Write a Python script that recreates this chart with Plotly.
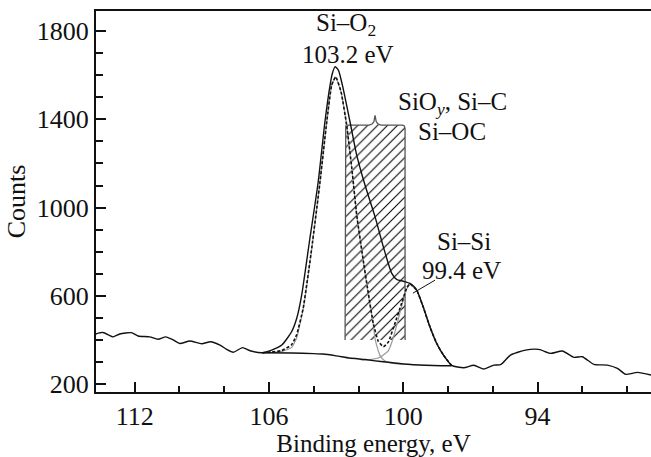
import plotly.graph_objects as go

# Si 2p photoelectron spectrum: measured counts, fitted envelope,
# the two fitted components and the Shirley-type background.

energy_measured = [
    113.8, 113.42, 112.97, 112.67, 112.15, 111.85, 111.33, 110.96, 110.61, 110.28,
    109.98, 109.54, 109.01, 108.61, 108.19, 107.89, 107.6, 107.18, 106.85, 106.3,
    105.88, 105.43, 104.99, 104.76, 104.54, 104.17, 103.80, 103.50, 103.27, 103.17,
    103.05, 102.90, 102.72, 102.38, 102.08, 101.71, 101.26, 100.89, 100.52, 100.29,
    100.00, 99.70, 99.40, 99.11, 98.81, 98.51, 98.21, 97.84,
    97.30, 96.85, 96.40, 95.95, 95.65, 95.21, 94.54, 93.94, 93.42, 92.89,
    92.37, 92.0, 91.48, 90.88, 90.43, 90.06, 89.54, 88.93,
]
counts_measured = [
    425, 434, 414, 427, 433, 418, 414, 403, 414, 400,
    384, 395, 383, 392, 377, 357, 344, 365, 351, 342,
    354, 377, 437, 498, 603, 862, 1117, 1389, 1555, 1608,
    1638, 1623, 1555, 1389, 1238, 1102, 958, 822, 703, 674,
    666, 656, 626, 550, 460, 385, 332, 285,
    274, 285, 268, 286, 288, 331, 354, 357, 339, 350,
    321, 324, 289, 286, 271, 244, 253, 241,
]

energy_fit = [
    106.3, 105.88, 105.43, 104.99, 104.76, 104.47, 104.09, 103.72, 103.42, 103.20,
    103.02, 102.78, 102.53, 102.30, 102.08, 101.79, 101.56, 101.34, 101.12, 100.89,
    100.67, 100.37, 100.07, 99.85, 99.70, 99.40, 99.11, 98.81, 98.51, 98.21, 97.84,
]
counts_fit = [
    342, 345, 352, 378, 425, 545, 816, 1117, 1389, 1555,
    1593, 1525, 1374, 1179, 966, 762, 611, 475, 395, 369,
    390, 476, 567, 635, 655, 626, 550, 460, 385, 332, 284,
]

energy_sio2 = [
    106.3, 105.88, 105.43, 104.99, 104.76, 104.47, 104.09, 103.72, 103.42, 103.20,
    103.02, 102.78, 102.53, 102.30, 102.08, 101.79, 101.56, 101.34, 101.26, 101.12,
    101.04, 100.89, 100.67, 100.37, 100.0,
]
counts_sio2 = [
    342, 343, 348, 365, 410, 540, 812, 1115, 1386, 1553,
    1591, 1523, 1372, 1177, 964, 758, 603, 470, 405, 352,
    330, 310, 298, 293, 291,
]

energy_sisi = [
    101.9, 101.56, 101.34, 101.12, 101.04, 100.89, 100.67, 100.52, 100.37, 100.22,
    100.07, 99.85, 99.70, 99.40, 99.11, 98.81, 98.51, 98.21, 97.84,
]
counts_sisi = [
    309, 311, 313, 318, 322, 332, 350, 387, 438, 495,
    555, 630, 652, 624, 549, 459, 384, 331, 284,
]

energy_bg = [106.3, 105.0, 104.0, 103.6, 103.0, 102.4, 101.7, 101.0, 100.0, 99.0, 98.3, 97.84]
counts_bg = [342, 341, 338, 336, 328, 318, 311, 302, 291, 285, 283, 283]

# Energy window of the SiOy / Si-C / Si-OC contribution (hatched band)
band_energy = [102.60, 99.92]
band_counts = [400, 1374]

peak_sio2_ev = 103.2
peak_sisi_ev = 99.4

x_ticks = [112, 106, 100, 94]
y_ticks = [200, 600, 1000, 1400, 1800]

FONT = "Liberation Serif, Times New Roman, serif"
INK = "#111111"

# Outline of the band: open at the bottom, rounded top corners, brace at the middle
hi, lo = band_energy
bottom, top = band_counts
mid = (hi + lo) / 2
cdx, cdy = 0.12, 16
band_x = [hi, hi, hi - 0.03, hi - cdx,
          mid + 0.26, mid + 0.12, mid + 0.05, mid, mid - 0.05, mid - 0.12, mid - 0.26,
          lo + cdx, lo + 0.03, lo, lo]
band_y = [bottom, top - cdy, top - 4, top,
          top, top + 6, top + 16, top + 44, top + 16, top + 6, top,
          top, top - 4, top - cdy, bottom]

fig = go.Figure()

fig.add_trace(go.Scatter(
    x=band_x + [hi], y=band_y + [bottom], mode="lines", fill="toself",
    fillcolor="rgba(255,255,255,0)", line=dict(width=0),
    fillpattern=dict(shape="/", fgcolor="#000000", fgopacity=1,
                     bgcolor="rgba(255,255,255,0)", size=7, solidity=0.15),
    hoverinfo="skip", showlegend=False,
))
fig.add_trace(go.Scatter(
    x=band_x, y=band_y, mode="lines",
    line=dict(color="#555555", width=1.3), hoverinfo="skip", showlegend=False,
))

fig.add_trace(go.Scatter(
    x=energy_sio2, y=counts_sio2, mode="lines", name="Si–O2",
    line=dict(color="#9a9a9a", width=1.2, shape="spline", smoothing=0.35),
    showlegend=False,
))
fig.add_trace(go.Scatter(
    x=energy_sisi, y=counts_sisi, mode="lines", name="Si–Si",
    line=dict(color="#9a9a9a", width=1.2, shape="spline", smoothing=0.35),
    showlegend=False,
))
fig.add_trace(go.Scatter(
    x=energy_fit, y=counts_fit, mode="lines", name="fit",
    line=dict(color=INK, width=1.6, dash="3px,2px", shape="spline", smoothing=0.4),
    showlegend=False,
))
fig.add_trace(go.Scatter(
    x=energy_bg, y=counts_bg, mode="lines", name="background",
    line=dict(color=INK, width=1.4, shape="spline", smoothing=0.5),
    showlegend=False,
))
fig.add_trace(go.Scatter(
    x=energy_measured, y=counts_measured, mode="lines", name="measured",
    line=dict(color=INK, width=1.4, shape="spline", smoothing=0.6),
    showlegend=False,
))

tfont = dict(family=FONT, size=25, color=INK)
annotations = [
    dict(x=102.56, y=1828, text="Si–O<sub>2</sub>"),
    dict(x=102.47, y=1692, text=f"{peak_sio2_ev:.1f} eV"),
    dict(x=97.82, y=1474, text="SiO<sub><i>y</i></sub>, Si–C"),
    dict(x=97.82, y=1345, text="Si–OC"),
    dict(x=97.29, y=848, text="Si–Si"),
    dict(x=97.38, y=714, text=f"{peak_sisi_ev:.1f} eV"),
]
for a in annotations:
    fig.add_annotation(xref="x", yref="y", showarrow=False, font=tfont, **a)

# leader from the Si-Si label to its peak
fig.add_shape(type="line", xref="x", yref="y", x0=99.57, y0=612, x1=98.58, y1=671,
              line=dict(color=INK, width=1))

fig.update_layout(
    width=651, height=457,
    margin=dict(l=96, r=0, t=11, b=65),
    paper_bgcolor="white", plot_bgcolor="white",
    font=dict(family=FONT, size=26, color=INK),
    showlegend=False,
)
fig.update_xaxes(
    range=[113.73, 88.93],
    tickvals=x_ticks, ticktext=[str(v) for v in x_ticks],
    ticks="inside", ticklen=10, tickwidth=1.5, tickcolor=INK,
    minor=dict(dtick=2, tick0=94, ticks="inside", ticklen=6, tickwidth=1.5, tickcolor=INK),
    showline=True, linewidth=2, linecolor=INK, mirror=True,
    showgrid=False, zeroline=False,
    tickfont=dict(family=FONT, size=26, color=INK),
    title=dict(text="Binding energy, eV", font=dict(family=FONT, size=25, color=INK), standoff=3),
)
fig.update_yaxes(
    range=[164, 1891],
    tickvals=y_ticks, ticktext=[str(v) for v in y_ticks],
    ticks="inside", ticklen=10, tickwidth=1.5, tickcolor=INK,
    minor=dict(dtick=100, tick0=200, ticks="inside", ticklen=7, tickwidth=1.5, tickcolor=INK),
    showline=True, linewidth=2, linecolor=INK, mirror=False,
    showgrid=False, zeroline=False,
    tickfont=dict(family=FONT, size=26, color=INK),
    title=dict(text="Counts", font=dict(family=FONT, size=26, color=INK), standoff=4),
)

fig.write_html("out.html")
